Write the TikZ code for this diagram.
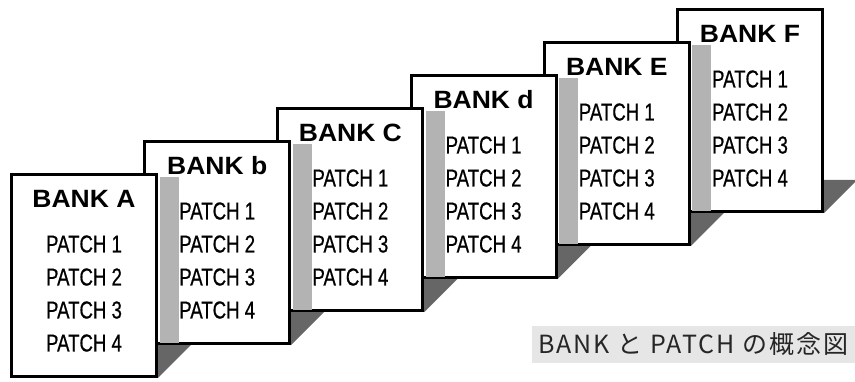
\documentclass[tikz,border=0pt]{standalone}
\usepackage{fontspec}
\newfontfamily\bankfont{Liberation Sans}[FakeStretch=1.06]
\newfontfamily\patchfont{Liberation Sans}[FakeStretch=0.76,FakeBold=0.6]
\newfontfamily\capfont{Noto Sans CJK JP}[LetterSpace=8]
\usetikzlibrary{backgrounds,calc}
\definecolor{shadowdark}{HTML}{666666}
\definecolor{shadowlight}{HTML}{B3B3B3}
\definecolor{captionbg}{HTML}{E6E6E6}
\definecolor{captiontext}{HTML}{262626}

\begin{document}
\begin{tikzpicture}[x=1pt,y=1pt,
  card/.style={draw,line width=3pt,fill=white,minimum width=145pt,minimum height=202pt,inner sep=0pt},
  title/.style={font=\bankfont\bfseries\fontsize{25}{25}\selectfont,inner sep=0pt,anchor=base},
  patch/.style={font=\patchfont\fontsize{24.5}{24.5}\selectfont,inner sep=0pt,anchor=base},
  floor/.style={fill=shadowdark},
  cast/.style={fill=shadowlight},
  caption/.style={fill=captionbg,text=captiontext,font=\capfont\fontsize{25}{25}\selectfont,
    minimum width=323pt,minimum height=37pt,inner sep=0pt}]
\useasboundingbox (0,0) rectangle (855,382);
\node[card] (F) at (750,271.5) {};
\foreach \n/\m in {F/E,E/d,d/C,C/b,b/A}
  \node[card] (\m) at ([shift={(-133.2,-33)}]\n) {};
\foreach \n/\m in {F/E,E/d,d/C,C/b,b/A}
  \fill[cast] ([shift={(1.5,-4.5)}]\m.north east) rectangle ($(\m.east |- \n.south)+(20.5,1.5)$);
\begin{scope}[on background layer]
\foreach \n in {A,b,C,d,E,F}
  \fill[floor] (\n.south west) -- (\n.south east) -- ++(33,33) -- ([shift={(33,33)}]\n.south west) -- cycle;
\end{scope}
\foreach \n in {A,b,C,d,E,F} {
  \node[title] (t\n) at ([yshift=-34.5]\n.north) {BANK \n};
  \foreach \k in {1,...,4}
    \node[patch] (p\n\k) at ([yshift={-45-33*(\k-1)}]t\n.base) {PATCH \k};
}
\node[caption,anchor=south east] (cap) at (855,19) {BANK と PATCH の概念図};
\end{tikzpicture}
\end{document}
